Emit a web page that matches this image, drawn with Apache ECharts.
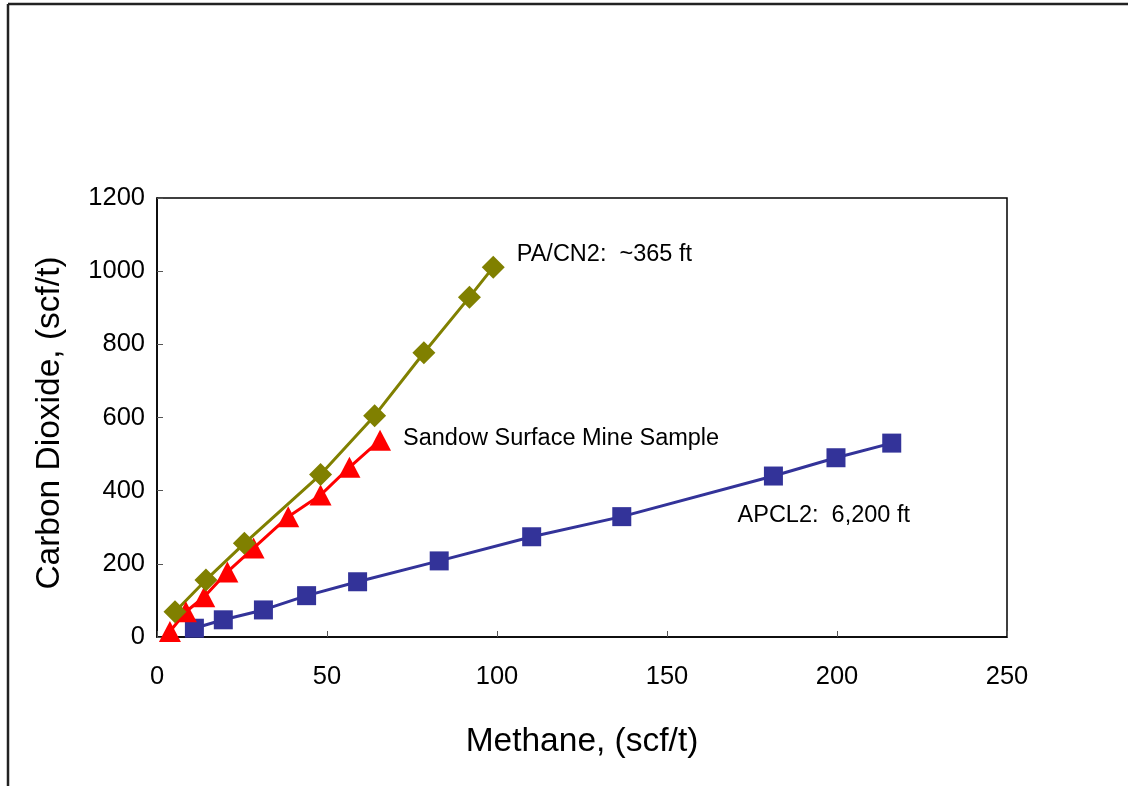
<!DOCTYPE html>
<html>
<head>
<meta charset="utf-8">
<script src="https://cdn.jsdelivr.net/npm/echarts@6/dist/echarts.min.js"></script>
<style>
html,body{margin:0;padding:0;background:#fff;}
#chart{width:1128px;height:786px;}
</style>
</head>
<body>
<div id="chart"></div>
<script>
// ---- Data ----
const methanePA = [5.3, 14.4, 25.7, 48.1, 64.0, 78.5, 91.9, 98.9];
const co2PA     = [69, 156, 256, 444, 605, 777, 929, 1011];

const methaneSandow = [3.8, 8.5, 13.9, 20.7, 28.4, 38.6, 48.1, 56.6, 65.6];
const co2Sandow     = [15, 69, 110, 178, 243, 329, 388, 464, 538];

const methaneAPCL2 = [11.0, 19.5, 31.3, 44.0, 59.0, 83.0, 110.2, 136.7, 181.3, 199.7, 216.1];
const co2APCL2     = [24, 47, 74, 113, 151, 208, 274, 329, 440, 490, 530];

const labelPA = 'PA/CN2:  ~365 ft';
const labelSandow = 'Sandow Surface Mine Sample';
const labelAPCL2 = 'APCL2:  6,200 ft';
const labelAPCL2Anchor = [170.6, 333];

const xAxisName = 'Methane, (scf/t)';
const yAxisName = 'Carbon Dioxide, (scf/t)';

const FONT = '"Liberation Sans", Arial, sans-serif';
const ANN_SIZE = 23.5;
const TICK_SIZE = 25.5;
const NAME_SIZE = 33.5;

function pairs(xs, ys, lastLabel) {
  return xs.map((x, i) => {
    const item = { value: [x, ys[i]] };
    if (i === xs.length - 1 && lastLabel) item.label = lastLabel;
    return item;
  });
}

const chart = echarts.init(document.getElementById('chart'), null, { renderer: 'canvas' });

const option = {
  animation: false,
  backgroundColor: '#ffffff',
  grid: {
    left: 157, right: 121, top: 198, bottom: 149,
    show: true, borderColor: '#000', borderWidth: 1.5, backgroundColor: 'transparent'
  },
  xAxis: {
    type: 'value', min: 0, max: 250, interval: 50,
    name: xAxisName, nameLocation: 'middle', nameGap: 88,
    nameTextStyle: { fontFamily: FONT, fontSize: NAME_SIZE, color: '#000' },
    axisLine: { show: true, onZero: false, lineStyle: { color: '#000', width: 1.5 } },
    axisTick: { show: true, inside: true, length: 6, lineStyle: { color: '#555', width: 1 } },
    axisLabel: { fontFamily: FONT, fontSize: TICK_SIZE, color: '#000', margin: 27,
                 formatter: v => String(v) },
    splitLine: { show: false }
  },
  yAxis: {
    type: 'value', min: 0, max: 1200, interval: 200,
    name: yAxisName, nameLocation: 'middle', nameGap: 90, nameRotate: 90,
    nameTextStyle: { fontFamily: FONT, fontSize: NAME_SIZE, color: '#000', padding: [0, 11, 0, 0] },
    axisLine: { show: true, lineStyle: { color: '#000', width: 1.5 } },
    axisTick: { show: true, inside: true, length: 6, lineStyle: { color: '#555', width: 1 } },
    axisLabel: { fontFamily: FONT, fontSize: TICK_SIZE, color: '#000', margin: 12,
                 formatter: v => String(v) },
    splitLine: { show: false }
  },
  series: [
    {
      name: 'APCL2', type: 'line',
      data: pairs(methaneAPCL2, co2APCL2),
      symbol: 'rect', symbolSize: 19,
      itemStyle: { color: '#333399' },
      lineStyle: { color: '#333399', width: 3 },
      markPoint: {
        silent: true,
        symbol: 'circle', symbolSize: 1,
        itemStyle: { color: 'rgba(0,0,0,0)' },
        data: [{
          coord: labelAPCL2Anchor,
          label: { show: true, position: 'right', distance: 0, formatter: labelAPCL2,
                   fontFamily: FONT, fontSize: ANN_SIZE, color: '#000' }
        }]
      }
    },
    {
      name: 'Sandow', type: 'line',
      data: pairs(methaneSandow, co2Sandow, {
        show: true, position: 'right', distance: 12, offset: [0, -2],
        formatter: labelSandow, fontFamily: FONT, fontSize: ANN_SIZE, color: '#000'
      }),
      symbol: 'triangle', symbolSize: [22, 21],
      itemStyle: { color: '#ff0000' },
      lineStyle: { color: '#ff0000', width: 3 }
    },
    {
      name: 'PA/CN2', type: 'line',
      data: pairs(methanePA, co2PA, {
        show: true, position: 'right', distance: 12, offset: [0, -13],
        formatter: labelPA, fontFamily: FONT, fontSize: ANN_SIZE, color: '#000'
      }),
      symbol: 'diamond', symbolSize: 23,
      itemStyle: { color: '#808000' },
      lineStyle: { color: '#808000', width: 3 }
    }
  ],
  graphic: [
    { type: 'line', silent: true, shape: { x1: 8, y1: 4, x2: 1128, y2: 4 },
      style: { stroke: '#222', lineWidth: 2.5 } },
    { type: 'line', silent: true, shape: { x1: 8, y1: 4, x2: 8, y2: 786 },
      style: { stroke: '#222', lineWidth: 2.5 } }
  ]
};

chart.setOption(option);
</script>
</body>
</html>
